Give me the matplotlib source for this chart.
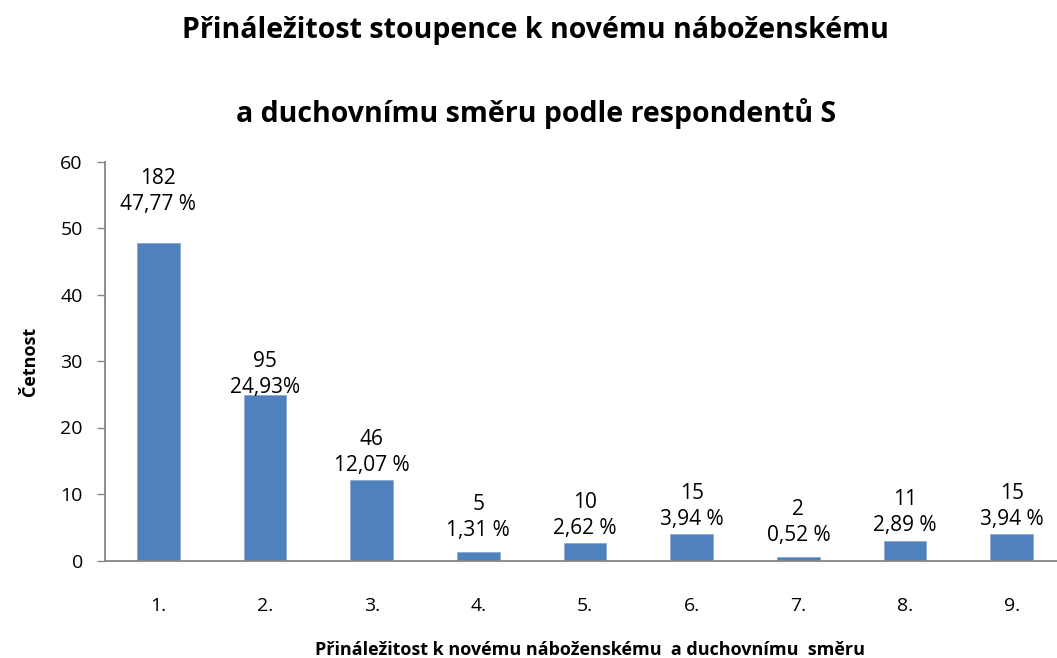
import matplotlib
matplotlib.use("Agg")
import matplotlib.pyplot as plt

# data
kategorie = ["1.", "2.", "3.", "4.", "5.", "6.", "7.", "8.", "9."]
cetnost = [182, 95, 46, 5, 10, 15, 2, 11, 15]
procenta = [47.77, 24.93, 12.07, 1.31, 2.62, 3.94, 0.52, 2.89, 3.94]
popisky_proc = ["47,77 %", "24,93%", "12,07 %", "1,31 %", "2,62 %",
                "3,94 %", "0,52 %", "2,89 %", "3,94 %"]

# gap between bar top and label baseline (pixels), as placed in the original
posun = [33, 2, 9, 16, 9, 9, 16, 10, 9]

plt.rcParams['font.family'] = ['Open Sans', 'DejaVu Sans']

fig = plt.figure(figsize=(10.57, 6.58), dpi=100)
ax = fig.add_axes([105 / 1057, 1 - 560.5 / 658, 960 / 1057, 399 / 658])

x = range(len(kategorie))
ax.bar(x, procenta, width=0.4, color='#4F81BD', edgecolor='#8BAAD3', linewidth=0.6, zorder=2)

for i, (c, p) in enumerate(zip(cetnost, popisky_proc)):
    ax.annotate(f"{c}\n{p}", (i, procenta[i]), xytext=(0, posun[i]),
                textcoords='offset pixels', ha='center', va='baseline',
                fontsize=15, linespacing=1.32, color='#000000')

ax.set_xlim(-0.5, len(kategorie) - 0.5)
ax.set_ylim(0, 60)
ax.set_yticks(range(0, 61, 10))
ax.set_xticks(list(x))
ax.set_xticklabels(kategorie)
ax.tick_params(axis='y', labelsize=14, length=6, width=1, color='#868686', pad=10)
ax.tick_params(axis='x', labelsize=14, length=0, pad=26)

for s in ['top', 'right']:
    ax.spines[s].set_visible(False)
for s in ['left', 'bottom']:
    ax.spines[s].set_color('#868686')
    ax.spines[s].set_linewidth(1.3)

ax.set_ylabel("Četnost", fontsize=13, fontweight='bold', va='center')
ax.yaxis.set_label_coords(-75 / 960, 0.5)
ax.set_xlabel("Přináležitost k novému náboženskému  a duchovnímu  směru",
              fontsize=13, fontweight='bold', va='baseline')
ax.xaxis.set_label_coords(0.505, -94.5 / 399)

fig.text(0.507, 1 - 38 / 658, "Přináležitost stoupence k novému náboženskému",
         ha='center', va='baseline', fontsize=20.5, fontweight='bold')
fig.text(0.507, 1 - 122 / 658, "a duchovnímu směru podle respondentů S",
         ha='center', va='baseline', fontsize=20.5, fontweight='bold')

fig.savefig("out.png", dpi=100)
